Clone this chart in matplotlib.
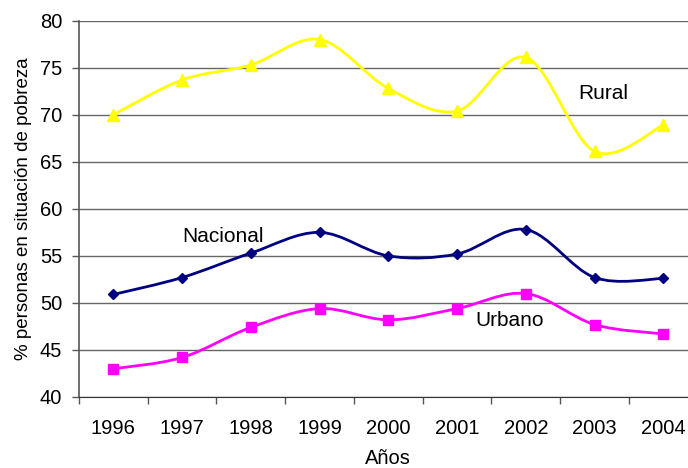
import matplotlib
matplotlib.use("Agg")
import matplotlib.pyplot as plt
from matplotlib.path import Path
from matplotlib.patches import PathPatch
import numpy as np

years = ["1996", "1997", "1998", "1999", "2000", "2001", "2002", "2003", "2004"]
rural = [70.0, 73.7, 75.3, 78.0, 72.8, 70.4, 76.1, 66.1, 68.9]
nacional = [50.9, 52.7, 55.3, 57.5, 55.0, 55.2, 57.8, 52.7, 52.6]
urbano = [43.0, 44.2, 47.4, 49.4, 48.2, 49.4, 51.0, 47.7, 46.7]

plt.rcParams['font.family'] = ['Liberation Sans', 'DejaVu Sans']

fig = plt.figure(figsize=(6.88, 4.68), dpi=100)
ax = fig.add_axes([79/688, 71/468, (697.7-79)/688, (397-20.7)/468])

x = np.arange(len(years))


def smooth_path(xs, ys, t=1/6):
    xs = np.asarray(xs, float)
    ys = np.asarray(ys, float)
    n = len(xs)
    verts = [(xs[0], ys[0])]
    codes = [Path.MOVETO]
    for i in range(n - 1):
        i0 = max(i - 1, 0)
        i3 = min(i + 2, n - 1)
        c1 = (xs[i] + (xs[i+1] - xs[i0]) * t, ys[i] + (ys[i+1] - ys[i0]) * t)
        c2 = (xs[i+1] - (xs[i3] - xs[i]) * t, ys[i+1] - (ys[i3] - ys[i]) * t)
        verts += [c1, c2, (xs[i+1], ys[i+1])]
        codes += [Path.CURVE4] * 3
    return Path(verts, codes)


series = [
    (rural, '#FFFF00', '^', 8),
    (nacional, '#000080', 'D', 5.5),
    (urbano, '#FF00FF', 's', 7.5),
]
for vals, col, mk, ms in series:
    ax.add_patch(PathPatch(smooth_path(x, vals), facecolor='none', edgecolor=col, lw=2, zorder=3))
    ax.plot(x, vals, linestyle='none', marker=mk, color=col, markersize=ms, zorder=4)

ax.set_xlim(-0.5, 8.5)
ax.set_ylim(40, 80)
ax.set_yticks(np.arange(40, 81, 5))
ax.set_xticks(x)
ax.set_xticklabels(years)
ax.set_xticks(np.arange(-0.5, 9, 1), minor=True)
ax.tick_params(axis='x', which='major', length=0, pad=16, labelsize=14.5)
ax.tick_params(axis='x', which='minor', length=5, width=1, color='#555555', direction='out')
ax.tick_params(axis='y', length=5, width=1, color='#555555', pad=7, labelsize=14.5)

ax.yaxis.grid(True, color='#666666', lw=1)
ax.set_axisbelow(True)
for s in ['top', 'right']:
    ax.spines[s].set_visible(False)
ax.spines['left'].set_color('#555555')
ax.spines['bottom'].set_color('#333333')
ax.spines['left'].set_linewidth(1.2)

ax.set_xlabel('Años', fontsize=14.5, labelpad=7.5)
ax.set_ylabel('% personas en situación de pobreza', fontsize=13.5, labelpad=5.5)

ax.text(7.13, 72.3, 'Rural', fontsize=15, ha='center', va='center')
ax.text(1.59, 57.1, 'Nacional', fontsize=15, ha='center', va='center')
ax.text(5.76, 48.1, 'Urbano', fontsize=15, ha='center', va='center')

fig.savefig('out.png', dpi=100)
